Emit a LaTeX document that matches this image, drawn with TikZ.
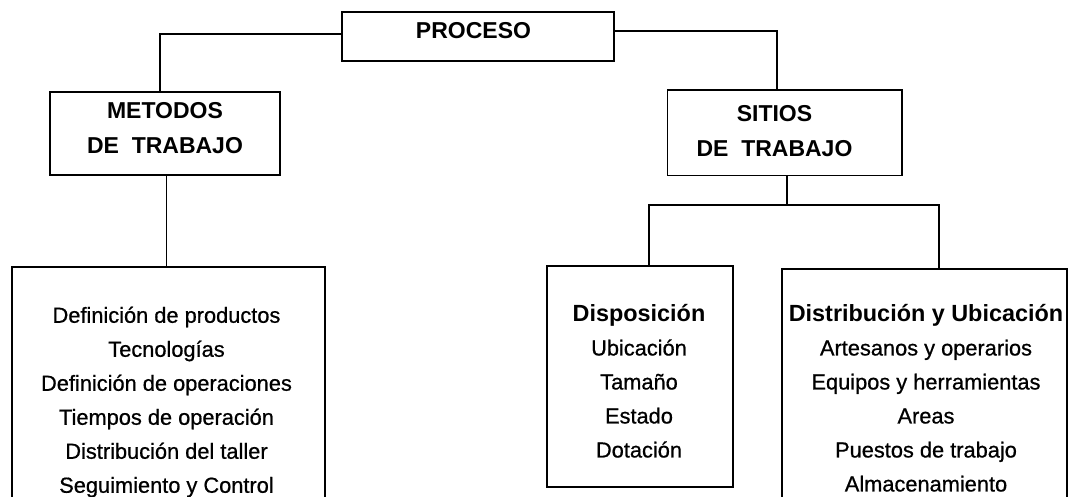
\documentclass[tikz,border=0pt]{standalone}
\usepackage{fontspec}
\setmainfont{Liberation Sans}
\newfontfamily\scanfont[FakeBold=0.7]{Liberation Sans}
\begin{document}
\begin{tikzpicture}[x=1pt,y=-1pt,
  box/.style={draw, line width=1.7pt, rectangle, inner sep=0pt},
  reg/.style={font=\scanfont\fontsize{21.8}{34}\selectfont, align=center, inner sep=0pt},
  ttl/.style={font=\fontsize{23}{35}\selectfont\bfseries, align=center, inner sep=0pt},
  link/.style={line width=1.7pt}]
\fill[white] (0,0) rectangle (1068,497);
\clip (0,0) rectangle (1068,497);
% boxes
\node[box, minimum width=272, minimum height=49] (proc) at (478,36.5) {};
\node[ttl] (proct) at (473.5,31) {PROCESO};
\node[box, minimum width=230, minimum height=83] (met) at (165,133.5) {};
\node[ttl] (mett) at (165,128) {METODOS\\DE\ \ TRABAJO};
\node[box, minimum width=234.5, minimum height=85.5] (sit) at (784.7,132.7) {};
\node[ttl] (sitt) at (774.5,131) {SITIOS\\DE\ \ TRABAJO};
\node[box, minimum width=313, minimum height=250] (lst) at (168.5,392) {};
\node[reg] (lstt) at (166.5,402) {Definición de productos\\Tecnologías\\Definición de operaciones\\Tiempos de operación\\Distribución del taller\\Seguimiento y Control};
\node[box, minimum width=186, minimum height=221] (disp) at (640,376.5) {};
\node[reg] (dispt) at (639,381) {{\normalfont\fontsize{23.4}{34}\selectfont\bfseries Disposición}\\Ubicación\\Tamaño\\Estado\\Dotación};
\node[box, minimum width=285, minimum height=240] (ubi) at (924.5,389) {};
\node[reg] (ubit) at (926,398) {{\normalfont\fontsize{23.4}{34}\selectfont\bfseries Distribución y Ubicación}\\Artesanos y operarios\\Equipos y herramientas\\Areas\\Puestos de trabajo\\Almacenamiento};
% connectors
\draw[link] ([yshift=2.8]proc.west) -| ([xshift=-5]met.north);
\draw[link] ([yshift=5.7]proc.east) -| ([xshift=-7.7]sit.north);
\draw[link] ([xshift=1.5]met.south) -- ([xshift=1.5]met.south |- lst.north);
\coordinate (j) at (787,205);
\draw[link] ([xshift=2.3]sit.south) -- (j);
\draw[link] ([xshift=9]disp.north) |- (j) -| ([xshift=14.5]ubi.north);
\end{tikzpicture}
\end{document}
